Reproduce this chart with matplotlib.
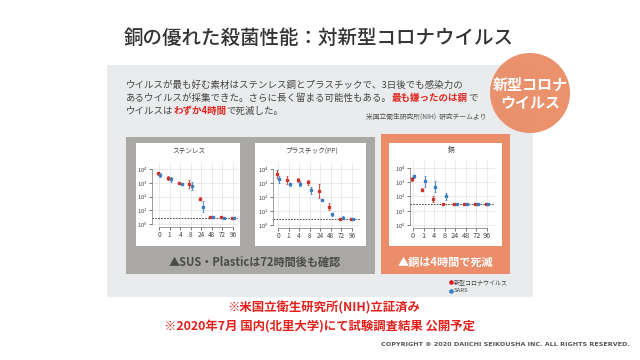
import numpy as np
import matplotlib
matplotlib.use('Agg')
import matplotlib.pyplot as plt
from matplotlib.patches import Rectangle, Circle

plt.rcParams['font.family'] = ['Noto Sans CJK JP', 'DejaVu Sans']
plt.rcParams['mathtext.fontset'] = 'dejavusans'

# ---- data (log10 titer) ----
hours = ['0', '1', '4', '8', '24', '48', '72', '96']

steel_cov2 = [3.68, 3.37, 3.00, 2.93, 1.85, 0.49, 0.51, 0.41]
steel_cov2_err = [0.12, 0.15, 0.05, 0.30, 0.10, 0.05, 0.05, 0.03]
steel_sars = [3.54, 3.24, 2.88, 2.76, 1.24, 0.49, 0.41, 0.41]
steel_sars_err = [0.15, 0.15, 0.07, 0.30, 0.40, 0.05, 0.03, 0.03]

plastic_cov2 = [3.63, 3.22, 3.22, 3.05, 2.43, 1.30, 0.43, 0.41]
plastic_cov2_err = [0.30, 0.30, 0.15, 0.20, 0.50, 0.25, 0.10, 0.03]
plastic_sars = [3.27, 2.90, 2.97, 2.50, 1.78, 0.77, 0.51, 0.41]
plastic_sars_err = [0.25, 0.08, 0.15, 0.25, 0.10, 0.10, 0.10, 0.03]

copper_cov2 = [3.22, 2.47, 1.81, 1.48, 1.48, 1.48, 1.48, 1.48]
copper_cov2_err = [0.15, 0.10, 0.20, 0.03, 0.03, 0.03, 0.03, 0.03]
copper_sars = [3.41, 3.06, 2.70, 2.00, 1.48, 1.48, 1.48, 1.48]
copper_sars_err = [0.08, 0.40, 0.40, 0.25, 0.03, 0.03, 0.03, 0.03]

detect_limit = {'steel': 0.40, 'plastic': 0.40, 'copper': 1.48}

RED = '#d0322a'
BLUE = '#3a7cc0'

W, H = 640, 360
fig = plt.figure(figsize=(6.4, 3.6), dpi=100)
fig.patch.set_facecolor('white')

bg = fig.add_axes([0, 0, 1, 1])
bg.set_xlim(0, W)
bg.set_ylim(H, 0)
bg.axis('off')


def px_rect(x0, y0, x1, y1):
    return [x0 / W, 1 - y1 / H, (x1 - x0) / W, (y1 - y0) / H]


# panels
bg.add_patch(Rectangle((107, 65), 426, 232, color='#e9ebec', lw=0))
bg.add_patch(Circle((530, 93), 40, color='#ea8a62', alpha=0.93, lw=0))
bg.add_patch(Rectangle((126, 137), 249, 137, color='#a9a8a4', lw=0))
bg.add_patch(Rectangle((381, 134), 129, 140, color='#ec8d69', lw=0))
bg.add_patch(Rectangle((136, 143), 104, 103, color='white', lw=0))
bg.add_patch(Rectangle((255, 143), 111, 103, color='white', lw=0))
bg.add_patch(Rectangle((389, 143), 113, 103, color='white', lw=0))

# title
bg.text(319, 38, '銅の優れた殺菌性能：対新型コロナウイルス', ha='center', va='center',
        fontsize=14, fontweight='medium', color='#333333')

# circle label
bg.text(530, 85, '新型コロナ', ha='center', va='center', fontsize=10.8,
        fontweight='bold', color='white')
bg.text(530, 102, 'ウイルス', ha='center', va='center', fontsize=10.8,
        fontweight='bold', color='white')


def write_line(x, y, parts, size=6.8):
    prev = None
    for s, color, weight in parts:
        if prev is None:
            prev = bg.text(x, y, s, ha='left', va='center', fontsize=size,
                           color=color, fontweight=weight)
        else:
            prev = bg.annotate(s, xy=(1, 0), xycoords=prev, ha='left', va='bottom',
                               fontsize=size, color=color, fontweight=weight)


DARK = '#444444'
write_line(126, 85, [('ウイルスが最も好む素材はステンレス鋼とプラスチックで、3日後でも感染力の', DARK, 'normal')])
write_line(126, 98, [('あるウイルスが採集できた。さらに長く留まる可能性もある。', DARK, 'normal'),
                     ('最も嫌ったのは銅', '#e02420', 'bold'),
                     ('で', DARK, 'normal')])
write_line(126, 111, [('ウイルスは', DARK, 'normal'),
                      ('わずか4時間', '#e02420', 'bold'),
                      ('で死滅した。', DARK, 'normal')])
bg.text(486, 117, '米国立衛生研究所(NIH)  研究チームより', ha='right', va='center',
        fontsize=4.9, color='#555555')

# box captions
bg.text(255, 262, '▲SUS・Plasticは72時間後も確認', ha='center', va='center',
        fontsize=8.0, fontweight='bold', color='#4a4a4a')
bg.text(445, 262, '▲銅は4時間で死滅', ha='center', va='center',
        fontsize=8.0, fontweight='bold', color='white')

# legend
bg.plot([451], [282], 'o', color='#e8141c', ms=2.3)
bg.text(454, 282, '新型コロナウイルス', ha='left', va='center', fontsize=4.3, color='#444444')
bg.plot([451], [291], 'o', color='#2f7fd0', ms=2.3)
bg.text(454, 291, 'SARS', ha='left', va='center', fontsize=4.3, color='#444444')

# footer
bg.text(324, 308, '※米国立衛生研究所(NIH)立証済み', ha='center', va='center',
        fontsize=8.9, fontweight='bold', color='#e3201b')
bg.text(320, 327, '※2020年7月 国内(北里大学)にて試験調査結果 公開予定', ha='center', va='center',
        fontsize=8.9, fontweight='bold', color='#e3201b')
bg.text(630, 345, 'COPYRIGHT © 2020 DAIICHI SEIKOUSHA INC. ALL RIGHTS RESERVED.',
        ha='right', va='center', fontsize=4.6, color='#555555', family='DejaVu Sans',
        fontweight='bold')


def small_chart(rect, xlim, ylim, title, title_xy, cov2, cov2_err, sars, sars_err,
                limit, xsize):
    ax = fig.add_axes(px_rect(*rect))
    ax.set_facecolor('white')
    x = np.arange(len(hours))
    ax.set_yscale('log')
    ax.set_xlim(*xlim)
    ax.set_ylim(10 ** ylim[0], 10 ** ylim[1])
    ax.grid(True, color='#e2e2e2', lw=0.5)
    ax.set_axisbelow(True)
    for vals, errs, col, off in [(cov2, cov2_err, RED, -0.13), (sars, sars_err, BLUE, 0.13)]:
        v = np.array(vals)
        e = np.array(errs)
        y = 10 ** v
        lo = y - 10 ** (v - e)
        hi = 10 ** (v + e) - y
        ax.errorbar(x + off, y, yerr=[lo, hi], fmt='s', color=col, ms=1.7,
                    elinewidth=0.6, capsize=0.8, capthick=0.5, zorder=3)
    ax.axhline(10 ** limit, color='#333333', lw=0.6, ls=(0, (2, 1.5)), zorder=2)
    ax.set_xticks(x)
    ax.set_xticklabels(hours)
    ax.set_yticks([1, 10, 100, 1000, 10000])
    ax.minorticks_off()
    ax.tick_params(axis='x', labelsize=xsize, length=2, width=0.5, pad=1,
                   colors='#444444')
    ax.tick_params(axis='y', labelsize=4.3, length=2, width=0.5, pad=1,
                   colors='#444444')
    for s in ['top', 'right']:
        ax.spines[s].set_visible(False)
    for s in ['left', 'bottom']:
        ax.spines[s].set_color('#777777')
        ax.spines[s].set_linewidth(0.5)
    ax.spines['left'].set_bounds(1, 10000)
    ax.spines['bottom'].set_bounds(0, len(hours) - 1)
    bg.text(title_xy[0], title_xy[1], title, ha='center', va='center',
            fontsize=4.8, color='#444444')
    return ax


small_chart((152, 163, 238, 227), (-0.66, 7.47), (-0.22, 4.44), 'ステンレス', (189, 150),
            steel_cov2, steel_cov2_err, steel_sars, steel_sars_err,
            detect_limit['steel'], 4.6)
small_chart((273, 163, 360, 228), (-0.47, 7.76), (-0.22, 4.44), 'プラスチック(PP)', (312, 151),
            plastic_cov2, plastic_cov2_err, plastic_sars, plastic_sars_err,
            detect_limit['plastic'], 4.6)
small_chart((410, 160, 495, 228), (-0.28, 7.76), (-0.21, 4.56), '銅', (451, 150),
            copper_cov2, copper_cov2_err, copper_sars, copper_sars_err,
            detect_limit['copper'], 5.3)

fig.savefig('out.png', dpi=100, facecolor='white')
plt.close(fig)
